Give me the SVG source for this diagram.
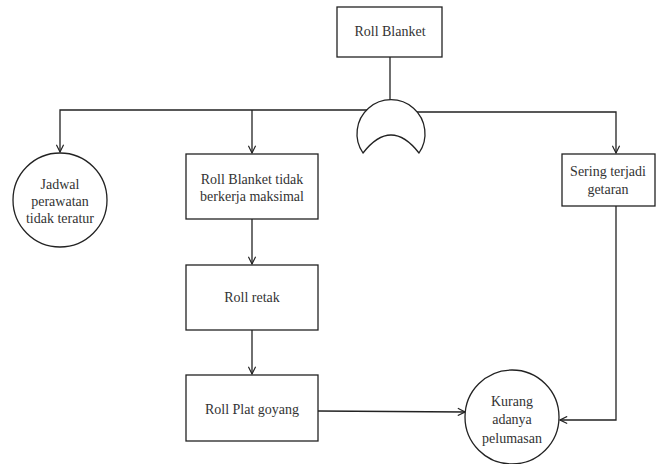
<svg xmlns="http://www.w3.org/2000/svg" width="657" height="464" viewBox="0 0 657 464">
<style>
.n{fill:#fff;stroke:#222;stroke-width:1.3}
.c{fill:none;stroke:#222;stroke-width:1.3}
text{font-family:"Liberation Serif","Times New Roman",serif;font-size:14px;fill:#333;text-anchor:middle}
</style>
<defs>
<marker id="a" viewBox="0 0 10 10" refX="9" refY="5" markerWidth="9" markerHeight="9" markerUnits="userSpaceOnUse" orient="auto">
<path d="M1,1 L9,5 L1,9" fill="none" stroke="#222" stroke-width="1.3"/>
</marker>
</defs>
<rect width="657" height="464" fill="#fff"/>
<g id="connectors">
<path class="c" d="M390,57 V100"/>
<path class="c" d="M367,110 H60 V152" marker-end="url(#a)"/>
<path class="c" d="M252,110 V153" marker-end="url(#a)"/>
<path class="c" d="M417,112 H616 V153" marker-end="url(#a)"/>
<path class="c" d="M252,219 V264" marker-end="url(#a)"/>
<path class="c" d="M252,330 V374" marker-end="url(#a)"/>
<path class="c" d="M318,411 L465,412" marker-end="url(#a)"/>
<path class="c" d="M616,206 V420 H560" marker-end="url(#a)"/>
</g>
<g id="roll-blanket">
<rect class="n" x="337" y="7" width="105" height="50"/>
<text x="390" y="36">Roll Blanket</text>
</g>
<g id="or-gate">
<path class="n" d="M363,153 A34,34 0 1 1 419,153 Q391,117 363,153 Z"/>
</g>
<g id="jadwal">
<circle class="n" cx="60" cy="200" r="47"/>
<text x="60" y="189">Jadwal</text>
<text x="60" y="206">perawatan</text>
<text x="60" y="223">tidak teratur</text>
</g>
<g id="roll-blanket-tidak">
<rect class="n" x="186" y="154" width="132" height="65"/>
<text x="252" y="184">Roll Blanket tidak</text>
<text x="252" y="201">berkerja maksimal</text>
</g>
<g id="sering">
<rect class="n" x="562" y="154" width="93" height="52"/>
<text x="608" y="176">Sering terjadi</text>
<text x="608" y="194">getaran</text>
</g>
<g id="roll-retak">
<rect class="n" x="186" y="265" width="132" height="65"/>
<text x="252" y="302">Roll retak</text>
</g>
<g id="roll-plat">
<rect class="n" x="186" y="375" width="132" height="66"/>
<text x="252" y="414">Roll Plat goyang</text>
</g>
<g id="kurang">
<circle class="n" cx="512" cy="417" r="47"/>
<text x="512" y="406">Kurang</text>
<text x="512" y="424">adanya</text>
<text x="512" y="443">pelumasan</text>
</g>
</svg>
